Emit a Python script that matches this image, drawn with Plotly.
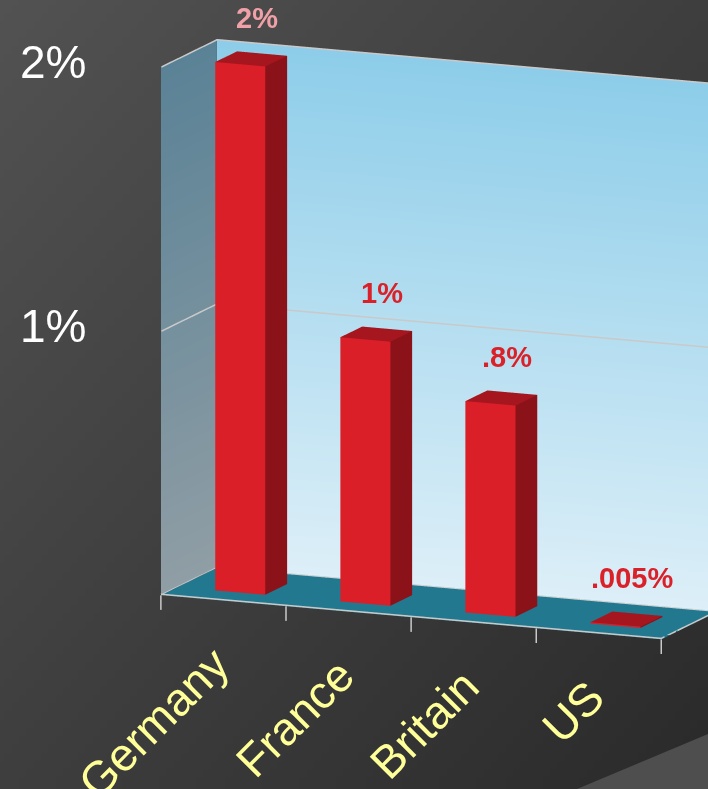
import base64
import math
import struct
import zlib

import plotly.graph_objects as go

# ---------------- data ----------------
categories = ["Germany", "France", "Britain", "US"]
values = [2.0, 1.0, 0.8, 0.005]          # percent
value_labels = ["2%", "1%", ".8%", ".005%"]
tick_values = [1.0, 2.0]
tick_labels = ["1%", "2%"]

# ---------------- geometry / style ----------------
X_POS = list(range(len(categories)))
X0, X1 = -0.5, len(categories) - 0.5
Y0, Y1 = 0.0, 1.0
BAR_HALF = 0.2
BAR_Y = (0.3, 0.69)
ZMAX = 2.0
FONT = "Liberation Sans, Arial, sans-serif"

RED_FRONT = "#DA1F29"
RED_SIDE = "#8C121A"
RED_TOP = "#A6161F"
EDGE = "#C9C9C9"

LIGHT = dict(ambient=1.0, diffuse=0.0, specular=0.0, roughness=1.0, fresnel=0.0)


def bg_png(w=96, h=96):
    raw = bytearray()
    for j in range(h):
        raw.append(0)
        for i in range(w):
            v = int(round(0x52 - 20 * i / (w - 1) - 20 * j / (h - 1)))
            raw += bytes((v, v, v))
    def chunk(tag, data):
        c = struct.pack(">I", len(data)) + tag + data
        return c + struct.pack(">I", zlib.crc32(tag + data) & 0xFFFFFFFF)
    png = b"\x89PNG\r\n\x1a\n"
    png += chunk(b"IHDR", struct.pack(">IIBBBBB", w, h, 8, 2, 0, 0, 0))
    png += chunk(b"IDAT", zlib.compress(bytes(raw), 9))
    png += chunk(b"IEND", b"")
    return "data:image/png;base64," + base64.b64encode(png).decode()


def bar_mesh(xc, v):
    x0, x1 = xc - BAR_HALF, xc + BAR_HALF
    y0, y1 = BAR_Y
    xs = [x0, x1, x1, x0, x0, x1, x1, x0]
    ys = [y0, y0, y1, y1, y0, y0, y1, y1]
    zs = [0, 0, 0, 0, v, v, v, v]
    # top, front, back, left, right
    i = [4, 4, 0, 0, 3, 3, 0, 0, 1, 1]
    j = [5, 6, 1, 5, 2, 6, 3, 7, 2, 6]
    k = [6, 7, 5, 4, 6, 7, 7, 4, 6, 5]
    fc = [RED_TOP] * 2 + [RED_FRONT] * 2 + [RED_SIDE] * 2 + [RED_FRONT] * 2 + [RED_SIDE] * 2
    return go.Mesh3d(x=xs, y=ys, z=zs, i=i, j=j, k=k, facecolor=fc,
                     flatshading=True, lighting=LIGHT, hoverinfo="skip",
                     showscale=False)


fig = go.Figure()

# walls & floor
fig.add_trace(go.Mesh3d(
    x=[X0, X1, X1, X0], y=[Y1, Y1, Y1, Y1], z=[0, 0, ZMAX, ZMAX],
    i=[0, 0], j=[1, 2], k=[2, 3],
    vertexcolor=["#DDEFF8", "#DDEFF8", "#8DCDE9", "#8DCDE9"],
    lighting=LIGHT, hoverinfo="skip"))
fig.add_trace(go.Mesh3d(
    x=[X0, X0, X0, X0], y=[Y0, Y1, Y1, Y0], z=[0, 0, ZMAX, ZMAX],
    i=[0, 0], j=[1, 2], k=[2, 3],
    vertexcolor=["#909EA5", "#909EA5", "#5A8296", "#5A8296"],
    lighting=LIGHT, hoverinfo="skip"))
fig.add_trace(go.Mesh3d(
    x=[X0, X1, X1, X0], y=[Y0, Y0, Y1, Y1], z=[0, 0, 0, 0],
    i=[0, 0], j=[1, 2], k=[2, 3], color="#21788F",
    lighting=LIGHT, hoverinfo="skip"))

# bars
for xc, v in zip(X_POS, values):
    fig.add_trace(bar_mesh(xc, v))

# grid lines, edges and ticks
nan = float("nan")
eps = 0.004
lx, ly, lz = [], [], []
for tv in tick_values:
    lx += [X0 + eps, X0 + eps, X1, nan]
    ly += [Y0, Y1 - eps, Y1 - eps, nan]
    lz += [tv, tv, tv, nan]
# floor outline
lx += [X0, X1, X1, X0, X0, nan]
ly += [Y0, Y0, Y1, Y1, Y0, nan]
lz += [eps, eps, eps, eps, eps, nan]
# ticks under the front edge
for k in range(len(categories) + 1):
    xt = X0 + k
    lx += [xt, xt, nan]
    ly += [Y0, Y0, nan]
    lz += [0, -0.055, nan]
fig.add_trace(go.Scatter3d(x=lx, y=ly, z=lz, mode="lines", connectgaps=False,
                           line=dict(color=EDGE, width=3), hoverinfo="skip"))

annotations = []
for tv, tl in zip(tick_values, tick_labels):
    annotations.append(dict(x=X0, y=Y0, z=tv, text=tl, showarrow=False,
                            xanchor="right", yanchor="middle", xshift=-73, yshift=5,
                            font=dict(family=FONT, size=46, color="white")))
for xc, cat in zip(X_POS, categories):
    annotations.append(dict(x=xc, y=Y0, z=0, text=cat, showarrow=False, textangle=-45,
                            xanchor="right", yanchor="top", xshift=18, yshift=-34,
                            font=dict(family=FONT, size=46, color="#FFFF99")))
for k, (xc, v, lab) in enumerate(zip(X_POS, values, value_labels)):
    annotations.append(dict(x=xc, y=0.6, z=v, text="<b>%s</b>" % lab, showarrow=False,
                            xanchor="center", yanchor="middle", yshift=38,
                            font=dict(family=FONT, size=29,
                                      color="#F0A1A8" if k == 0 else "#DA2129")))

# camera (orthographic), azimuth a and pitch p
a = math.radians(23)
p = math.radians(12)
r = 2.0
R = (math.cos(a), math.sin(a), 0.0)
U = (-math.sin(a) * math.sin(p), math.cos(a) * math.sin(p), math.cos(p))
D = (math.cos(p) * math.sin(a), -math.cos(p) * math.cos(a), math.sin(p))
sr, su = -0.2157, -0.126
C = [sr * R[n] + su * U[n] for n in range(3)]
E = [C[n] + r * D[n] for n in range(3)]

ax = dict(visible=False, showgrid=False, zeroline=False, showbackground=False,
          showspikes=False, showticklabels=False, title="")
fig.update_layout(
    width=708, height=789,
    margin=dict(l=0, r=0, t=0, b=0),
    paper_bgcolor="#434343",
    showlegend=False,
    images=[dict(source=bg_png(), xref="paper", yref="paper", x=0, y=1,
                 sizex=1, sizey=1, sizing="stretch", layer="below")],
    shapes=[dict(type="path", xref="paper", yref="paper",
                 path="M 0.815 0 L 1 0.0697 L 1 0 Z",
                 fillcolor="#4E4E4E", line=dict(width=0), layer="below")],
    scene=dict(
        domain=dict(x=[0, 1], y=[0, 1]),
        bgcolor="rgba(0,0,0,0)",
        xaxis=dict(ax, range=[X0, X1]),
        yaxis=dict(ax, range=[Y0, Y1]),
        zaxis=dict(ax, range=[-0.06, ZMAX + 0.02]),
        aspectmode="manual",
        aspectratio=dict(x=1.378, y=0.363, z=1.424),
        camera=dict(projection=dict(type="orthographic"),
                    up=dict(x=0, y=0, z=1),
                    center=dict(x=C[0], y=C[1], z=C[2]),
                    eye=dict(x=E[0], y=E[1], z=E[2])),
        annotations=annotations,
    ),
)

fig.write_html("out.html",
               config={"displayModeBar": False},
               post_script="document.body.style.margin='0';"
                           "document.documentElement.style.overflow='hidden';")
